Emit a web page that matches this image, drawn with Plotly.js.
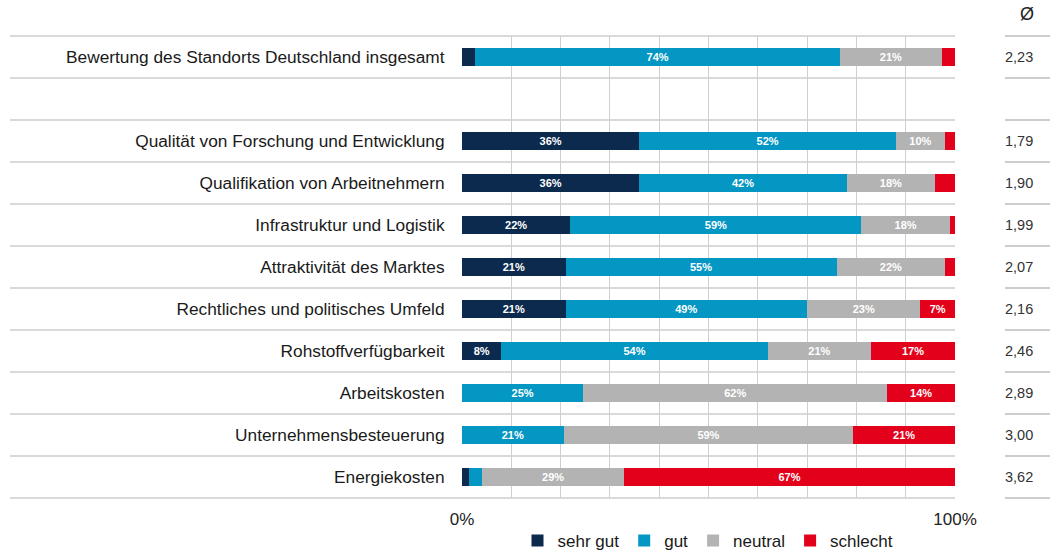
<!DOCTYPE html>
<html>
<head>
<meta charset="utf-8">
<script src="https://cdn.plot.ly/plotly-3.0.1.min.js"></script>
<style>html,body{margin:0;padding:0;background:#fff;}#chart{width:1052px;height:552px;}</style>
</head>
<body>
<div id="chart"></div>
<script>
const categories = [
  "Bewertung des Standorts Deutschland insgesamt",
  " ",
  "Qualität von Forschung und Entwicklung",
  "Qualifikation von Arbeitnehmern",
  "Infrastruktur und Logistik",
  "Attraktivität des Marktes",
  "Rechtliches und politisches Umfeld",
  "Rohstoffverfügbarkeit",
  "Arbeitskosten",
  "Unternehmensbesteuerung",
  "Energiekosten"
];
const sehrGut  = [2.7, null, 36, 36, 22, 21, 21, 8, 0, 0, 1.4];
const gut      = [74, null, 52, 42, 59, 55, 49, 54, 24.6, 20.6, 2.7];
const neutral  = [20.6, null, 10, 18, 18, 22, 23, 21, 61.7, 58.8, 28.8];
const schlecht = [2.7, null, 2, 4, 1, 2, 7, 17, 13.7, 20.6, 67.1];
const average  = ["2,23", "", "1,79", "1,90", "1,99", "2,07", "2,16", "2,46", "2,89", "3,00", "3,62"];
const seriesNames = ["sehr gut", "gut", "neutral", "schlecht"];
const seriesColors = ["#0c2a4d", "#0497c4", "#b3b3b3", "#e2001a"];
const xTickVals = [0, 100];
const xTickText = ["0%", "100%"];
const avgHeader = "Ø";

const FONT = "Liberation Sans, Arial, sans-serif";
const seriesValues = [sehrGut, gut, neutral, schlecht];

const traces = seriesValues.map((vals, i) => ({
  type: "bar",
  orientation: "h",
  name: seriesNames[i],
  x: vals,
  y: categories,
  width: 0.42,
  marker: { color: seriesColors[i], line: { width: 0 } },
  text: vals.map(v => (v !== null && v >= 5) ? Math.round(v) + "%" : ""),
  textposition: "inside",
  insidetextanchor: "middle",
  constraintext: "none",
  textangle: 0,
  textfont: { family: FONT, size: 11, color: "#ffffff", weight: "bold" },
  hovertemplate: "%{y}: %{x}%<extra>" + seriesNames[i] + "</extra>"
}));

// layout geometry (pixels)
const W = 1052, H = 552;
const mL = 462, mR = 97, mT = 36, mB = 54;
const plotW = W - mL - mR, plotH = H - mT - mB;
const px2x = p => (p - mL) / plotW;
const py2y = p => 1 - (p - mT) / plotH;

const n = categories.length;
const shapes = [];
for (let k = 0; k <= n; k++) {
  const yy = 1 - k / n;
  shapes.push({ type: "line", xref: "paper", yref: "paper", x0: px2x(10), x1: 1, y0: yy, y1: yy,
    line: { color: "#cccccc", width: 1.3 }, layer: "below" });
  shapes.push({ type: "line", xref: "paper", yref: "paper", x0: px2x(1005), x1: px2x(1050), y0: yy, y1: yy,
    line: { color: "#bdbdbd", width: 1.3 }, layer: "below" });
}

const annotations = average.map((a, k) => ({
  xref: "paper", yref: "paper", x: px2x(1019), y: 1 - (k + 0.5) / n,
  text: a, showarrow: false, xanchor: "center", yanchor: "middle",
  font: { family: FONT, size: 14.5, color: "#333333" }
}));
annotations.push({
  xref: "paper", yref: "paper", x: px2x(1027), y: py2y(14),
  text: avgHeader, showarrow: false, xanchor: "center", yanchor: "middle",
  font: { family: FONT, size: 18, color: "#222222" }
});

const layout = {
  width: W, height: H,
  margin: { l: mL, r: mR, t: mT, b: mB, pad: 0 },
  paper_bgcolor: "#ffffff",
  plot_bgcolor: "#ffffff",
  barmode: "stack",
  font: { family: FONT, color: "#1a1a1a" },
  xaxis: {
    range: [0, 100],
    tickvals: xTickVals,
    ticktext: xTickText,
    ticks: "outside", ticklen: 6, tickcolor: "rgba(0,0,0,0)",
    tickfont: { family: FONT, size: 17, color: "#222222" },
    showgrid: true, gridcolor: "#cfcfcf", gridwidth: 1,
    minor: { dtick: 10, tick0: 0, showgrid: true, gridcolor: "#cfcfcf", gridwidth: 1 },
    zeroline: false, showline: false, fixedrange: true, automargin: false
  },
  yaxis: {
    type: "category",
    categoryorder: "array",
    categoryarray: categories,
    autorange: "reversed",
    ticks: "outside", ticklen: 13, tickcolor: "rgba(0,0,0,0)",
    tickfont: { family: FONT, size: 17.3, color: "#1a1a1a" },
    showgrid: false, zeroline: false, showline: false, fixedrange: true, automargin: false
  },
  legend: {
    orientation: "h",
    xref: "container", yref: "container",
    x: 708 / W, xanchor: "center",
    y: 1 - 541 / H, yanchor: "middle",
    font: { family: FONT, size: 17, color: "#1a1a1a" },
    traceorder: "normal",
    itemwidth: 30,
    bgcolor: "rgba(0,0,0,0)"
  },
  shapes: shapes,
  annotations: annotations,
  showlegend: true
};

Plotly.newPlot("chart", traces, layout, { displayModeBar: false, staticPlot: true });
</script>
</body>
</html>
